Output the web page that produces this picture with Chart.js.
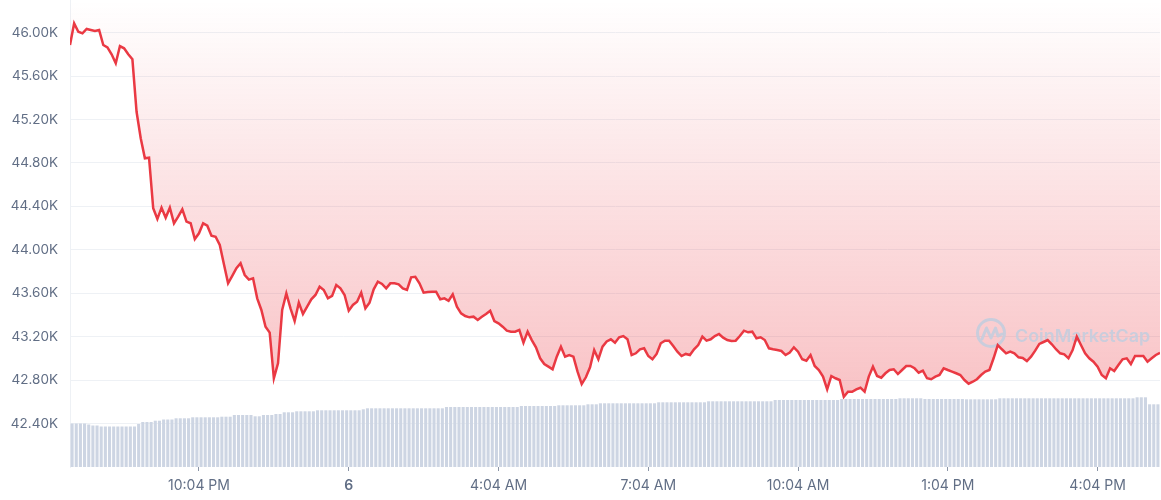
<!DOCTYPE html>
<html>
<head>
<meta charset="utf-8">
<script src="https://cdn.jsdelivr.net/npm/chart.js@4.4.1/dist/chart.umd.min.js"></script>
<style>
html,body{margin:0;padding:0;background:#ffffff;}
#wrap{width:1161px;height:500px;position:relative;}
</style>
</head>
<body>
<div id="wrap"><canvas id="c"></canvas></div>
<script>
// 5-minute samples, index 0 = 7:29 PM
const xTickIndex = [31, 67, 103, 139, 175, 211, 247];
const xTickLabels = ['10:04 PM', '6', '4:04 AM', '7:04 AM', '10:04 AM', '1:04 PM', '4:04 PM'];
const yTickValues = [42400, 42800, 43200, 43600, 44000, 44400, 44800, 45200, 45600, 46000];

const prices = [
45886,46085,46008,45993,46033,46024,46015,46024,45886,45864,
45800,45717,45876,45855,45800,45754,45271,45027,44842,44848,
44382,44283,44388,44295,44388,44244,44305,44373,44259,44244,
44099,44152,44244,44222,44130,44120,44044,43866,43691,43759,
43830,43876,43768,43725,43737,43553,43446,43292,43237,42817,
42955,43446,43599,43461,43344,43513,43409,43476,43544,43584,
43660,43630,43553,43575,43676,43645,43584,43439,43492,43522,
43605,43461,43513,43636,43706,43685,43645,43691,43691,43682,
43645,43630,43747,43752,43691,43605,43611,43614,43614,43544,
43553,43531,43590,43476,43415,43390,43378,43384,43354,43384,
43409,43439,43344,43323,43292,43255,43246,43246,43262,43145,
43246,43169,43102,43001,42948,42924,42900,43016,43108,43016,
43031,43016,42878,42764,42826,42918,43077,42992,43108,43156,
43176,43145,43194,43206,43176,43031,43047,43084,43093,43022,
42992,43041,43139,43163,43163,43114,43062,43022,43041,43031,
43084,43123,43200,43163,43176,43206,43225,43191,43169,43160,
43163,43206,43255,43240,43246,43185,43194,43169,43093,43084,
43077,43068,43031,43054,43102,43062,42992,42979,43031,42930,
42893,42832,42715,42838,42817,42801,42647,42693,42693,42715,
42730,42693,42832,42924,42838,42822,42863,42893,42900,42856,
42893,42930,42930,42909,42868,42887,42817,42808,42832,42847,
42909,42893,42878,42863,42847,42801,42767,42785,42808,42847,
42878,42893,43001,43123,43084,43047,43062,43047,43010,43004,
42976,43016,43071,43133,43151,43169,43130,43084,43047,43038,
43001,43077,43200,43123,43047,43001,42970,42924,42847,42817,
42909,42884,42939,42992,43001,42948,43022,43022,43022,42970,
43001,43031,43052
];

// rolling 24h volume, billions USD
const volumes = [
21.75,21.75,21.75,21.75,21.25,20.75,20.75,20.25,20.25,20.25,
20.25,20.25,20.25,20.25,20.25,20.25,21.5,22.5,22.5,22.5,
23.15,23.15,23.75,23.75,23.75,24.35,24.35,24.35,24.35,24.85,
24.85,24.85,24.85,24.85,24.85,24.85,25.15,25.15,25.15,26.0,
26.0,26.0,26.0,26.0,25.35,25.35,26.0,26.0,26.0,26.5,
26.5,27.35,27.35,27.35,27.85,27.85,27.85,27.85,27.85,28.35,
28.35,28.35,28.35,28.35,28.35,28.35,28.35,28.35,28.35,28.35,
28.85,29.35,29.35,29.35,29.35,29.35,29.35,29.35,29.35,29.35,
29.35,29.35,29.35,29.35,29.35,29.35,29.35,29.35,29.35,29.35,
30.0,30.0,30.0,30.0,30.0,30.0,30.0,30.0,30.0,30.0,
30.0,30.0,30.0,30.0,30.0,30.0,30.0,30.0,30.5,30.5,
30.5,30.5,30.5,30.5,30.5,30.5,30.5,30.85,30.85,30.85,
30.85,30.85,30.85,30.85,31.35,31.35,31.35,31.85,31.85,31.85,
31.85,31.85,31.85,31.85,31.85,31.85,31.85,31.85,31.85,31.85,
31.85,32.35,32.35,32.35,32.35,32.35,32.35,32.35,32.35,32.35,
32.35,32.35,32.35,32.85,32.85,32.85,32.85,32.85,32.85,32.85,
32.85,32.85,32.85,32.85,32.85,32.85,32.85,32.85,32.85,33.5,
33.5,33.5,33.5,33.5,33.5,33.5,33.5,33.5,33.5,33.5,
33.5,33.5,33.5,33.5,33.5,34.0,34.0,34.0,34.0,34.0,
34.0,34.0,34.0,34.0,34.0,34.0,34.0,34.0,34.0,34.35,
34.35,34.35,34.35,34.35,34.35,34.0,34.0,34.0,34.0,34.0,
34.0,34.0,34.0,34.0,34.0,33.85,33.85,33.85,33.85,33.85,
33.85,33.85,33.85,34.35,34.35,34.35,34.35,34.35,34.35,34.35,
34.35,34.35,34.35,34.35,34.35,34.35,34.35,34.35,34.35,34.35,
34.35,34.35,34.35,34.35,34.35,34.35,34.35,34.35,34.35,34.35,
34.35,34.35,34.35,34.35,34.35,34.35,34.85,34.85,34.85,31.35,
31.35,31.35
];

const FONT = 'Inter';
const LABEL_COLOR = '#616e85';

const watermark = {
  id: 'watermark',
  beforeDatasetDraw(chart, args) {
    if (args.index !== 0) return;
    const ctx = chart.ctx;
    ctx.save();
    const col = 'rgba(196,205,222,0.9)';
    ctx.strokeStyle = col;
    ctx.fillStyle = col;
    ctx.lineWidth = 3;
    ctx.lineJoin = 'round';
    ctx.lineCap = 'round';
    const cx = 991, cy = 333, r = 13.5;
    ctx.beginPath();
    ctx.arc(cx, cy, r, 0, Math.PI * 2);
    ctx.stroke();
    ctx.beginPath();
    ctx.moveTo(cx - 9, cy + 6);
    ctx.lineTo(cx - 4.5, cy - 5);
    ctx.lineTo(cx, cy + 5);
    ctx.lineTo(cx + 4.5, cy - 5);
    ctx.lineTo(cx + 7, cy + 3);
    ctx.lineTo(cx + 11, cy + 1);
    ctx.stroke();
    let size = 21;
    ctx.font = '600 ' + size + 'px ' + FONT;
    const w = ctx.measureText('CoinMarketCap').width;
    size = size * 135 / w;
    ctx.font = '600 ' + size.toFixed(1) + 'px ' + FONT;
    ctx.textBaseline = 'middle';
    ctx.fillText('CoinMarketCap', 1015, 337);
    ctx.restore();
  }
};

const lineData = prices.map((p, i) => ({ x: i, y: p }));
const barData = volumes.map((v, i) => ({ x: i + 0.5, y: v }));

new Chart(document.getElementById('c'), {
  data: {
    datasets: [
      {
        type: 'line',
        data: lineData,
        yAxisID: 'y',
        borderColor: '#ea3943',
        borderWidth: 2.5,
        pointRadius: 0,
        tension: 0,
        fill: 'end',
        order: 0,
        backgroundColor: (ctx) => {
          const area = ctx.chart.chartArea;
          if (!area) return 'rgba(234,57,67,0.15)';
          const g = ctx.chart.ctx.createLinearGradient(0, area.top, 0, area.top + 400);
          g.addColorStop(0, 'rgba(234,57,67,0.0)');
          g.addColorStop(1, 'rgba(234,57,67,0.31)');
          return g;
        }
      },
      {
        type: 'bar',
        data: barData,
        yAxisID: 'yv',
        backgroundColor: '#cdd5e3',
        barPercentage: 0.74,
        categoryPercentage: 1,
        order: 1
      }
    ]
  },
  options: {
    responsive: true,
    maintainAspectRatio: false,
    animation: false,
    layout: { padding: { left: 0, right: 1, top: 0, bottom: 0 } },
    plugins: { legend: { display: false }, tooltip: { enabled: false } },
    scales: {
      x: {
        type: 'linear',
        offset: false,
        min: 0,
        max: prices.length - 1,
        afterBuildTicks: (s) => { s.ticks = xTickIndex.map(v => ({ value: v })); },
        afterFit: (s) => { s.height = 33; s.paddingLeft = 0; s.paddingRight = 0; },
        ticks: {
          autoSkip: false,
          maxRotation: 0,
          padding: 6,
          color: LABEL_COLOR,
          font: (c) => ({ family: FONT, size: 14, weight: (c.tick && c.tick.label === '6') ? '600' : '400' }),
          callback: (v) => { const k = xTickIndex.indexOf(v); return k >= 0 ? xTickLabels[k] : ''; }
        },
        grid: { offset: false, drawOnChartArea: false, drawTicks: true, tickLength: 4, tickColor: '#8a94a6', tickWidth: 1 },
        border: { display: false }
      },
      y: {
        position: 'left',
        min: 42000,
        max: 46300,
        afterBuildTicks: (s) => { s.ticks = yTickValues.map(v => ({ value: v })); },
        afterFit: (s) => { s.width = 70; s.paddingTop = 0; s.paddingBottom = 0; },
        ticks: {
          padding: 12,
          color: LABEL_COLOR,
          font: { family: FONT, size: 13.5 },
          callback: (v) => (v / 1000).toFixed(2) + 'K'
        },
        grid: { color: '#eef1f5', drawTicks: false, lineWidth: 1 },
        border: { display: true, color: '#eef1f5' }
      },
      yv: {
        display: false,
        min: 0,
        max: 233.5
      }
    }
  },
  plugins: [watermark]
});
</script>
</body>
</html>
